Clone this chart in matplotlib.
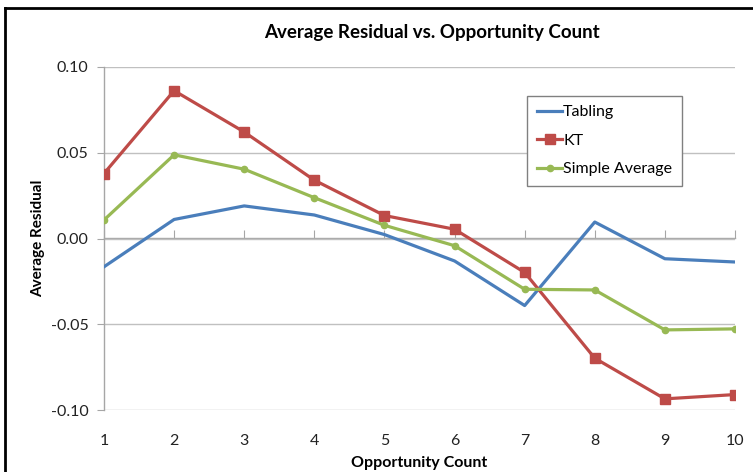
import matplotlib
matplotlib.use("Agg")
import matplotlib.pyplot as plt
from matplotlib.lines import Line2D

plt.rcParams['font.family'] = ['Lato', 'DejaVu Sans']

# opportunity count categories
counts = [1, 2, 3, 4, 5, 6, 7, 8, 9, 10]

# average residual per series
tabling = [-0.0165, 0.0111, 0.0190, 0.0137, 0.0023, -0.0131, -0.0391, 0.0096, -0.0118, -0.0137]
kt = [0.0379, 0.0862, 0.0621, 0.0340, 0.0134, 0.0054, -0.0198, -0.0698, -0.0935, -0.0910]
simple_avg = [0.0108, 0.0488, 0.0404, 0.0238, 0.0077, -0.0042, -0.0296, -0.0300, -0.0533, -0.0527]

y_ticks = [-0.10, -0.05, 0.00, 0.05, 0.10]

fig = plt.figure(figsize=(7.53, 4.72), dpi=100)
ax = fig.add_axes([104 / 753, 1 - 410 / 472, 631 / 753, 343 / 472])

ax.plot(counts, tabling, color='#4A7EBB', linewidth=2.3, label='Tabling', zorder=3)
ax.plot(counts, kt, color='#BE4B48', linewidth=2.3, marker='s', markersize=6.5,
        label='KT', zorder=3)
ax.plot(counts, simple_avg, color='#98B954', linewidth=2.3, marker='o', markersize=4.5,
        label='Simple Average', zorder=3)

ax.set_xlim(1, 10)
ax.set_ylim(-0.10, 0.10)
ax.set_yticks(y_ticks)
ax.set_yticklabels([f"{v:.2f}" for v in y_ticks])
ax.set_xticks(counts)
ax.set_xticklabels([str(c) for c in counts])

# grid and spines
ax.grid(axis='y', color='#C0C0C0', linewidth=1.0, zorder=0)
ax.grid(axis='x', visible=False)
for s in ['top', 'right', 'bottom']:
    ax.spines[s].set_visible(False)
ax.spines['left'].set_color('#A6A6A6')
ax.spines['left'].set_linewidth(1.0)
ax.tick_params(axis='y', direction='out', length=5, color='#A6A6A6', labelsize=11.5,
               labelcolor='#222222', pad=6)
ax.tick_params(axis='x', length=0, labelsize=11.5, labelcolor='#222222', pad=17)

# category axis crossing at zero
zero_ax = ax.secondary_xaxis(0.5)
zero_ax.set_xticks(counts)
zero_ax.set_xticklabels([])
zero_ax.tick_params(direction='out', length=6, color='#A6A6A6')
for sp in zero_ax.spines.values():
    sp.set_color('#A6A6A6')
    sp.set_linewidth(1.0)

ax.set_title('Average Residual vs. Opportunity Count', fontsize=13.5, fontweight='bold',
             pad=21, x=0.52)
ax.set_xlabel('Opportunity Count', fontsize=11.5, fontweight='bold', labelpad=6)
ax.set_ylabel('Average Residual', fontsize=11, fontweight='bold', labelpad=4)

leg = ax.legend(loc='upper left', bbox_to_anchor=(0.658, 0.94), fontsize=11.5,
                fancybox=False, framealpha=1, edgecolor='#808080', handlelength=1.6,
                handletextpad=0.05, labelspacing=0.9, borderpad=0.6)
leg.get_frame().set_linewidth(1.0)

# outer border (top and left edges visible in the original screenshot)
fig.add_artist(Line2D([5 / 753, 1], [1 - 8 / 472, 1 - 8 / 472], color='black', linewidth=2,
                      transform=fig.transFigure))
fig.add_artist(Line2D([5 / 753, 5 / 753], [0, 1 - 8 / 472], color='black', linewidth=2,
                      transform=fig.transFigure))

fig.savefig('out.png', dpi=100)
